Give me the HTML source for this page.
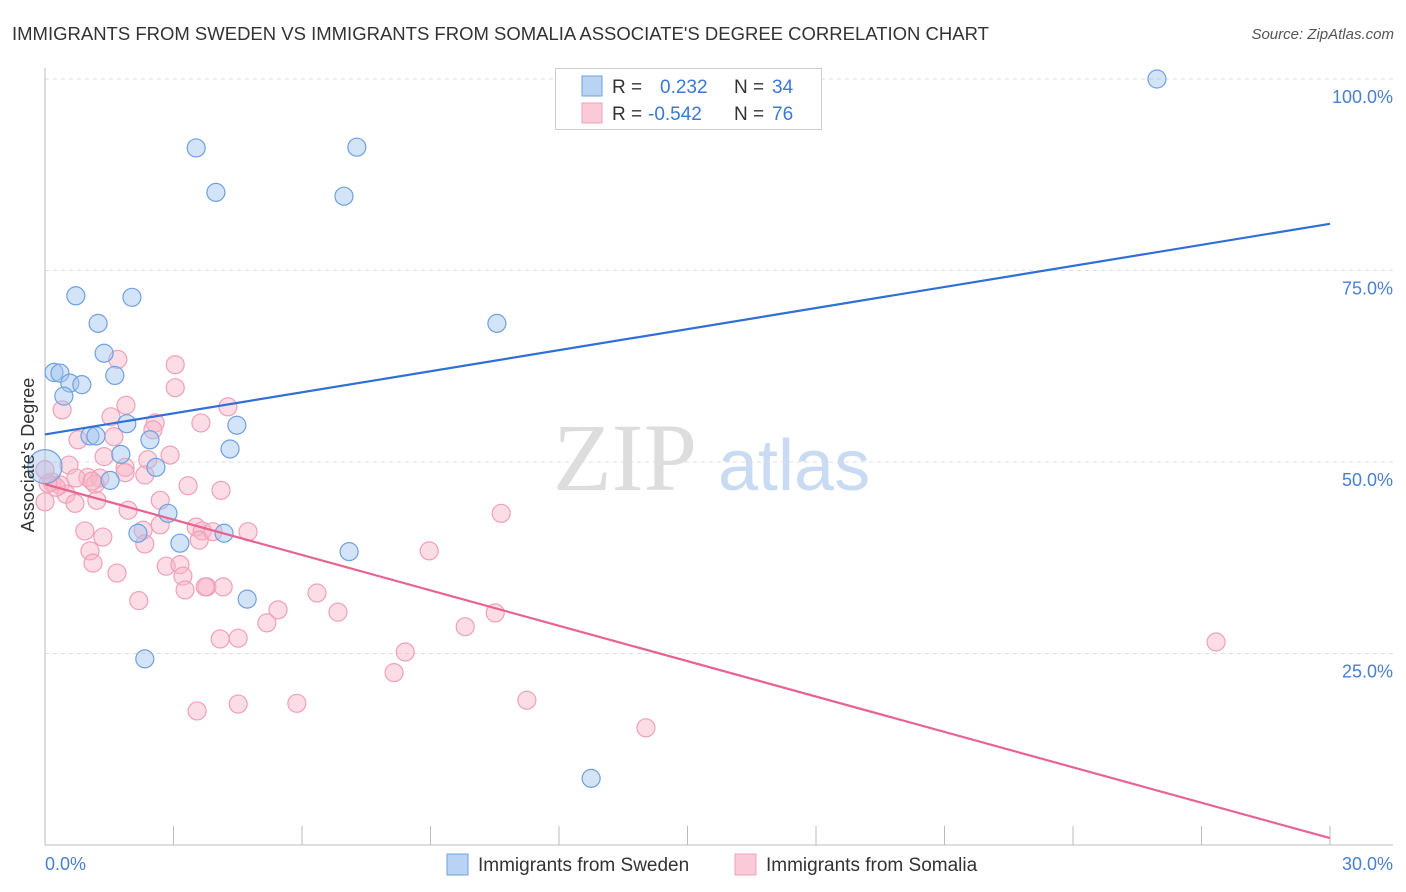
<!DOCTYPE html>
<html><head><meta charset="utf-8"><style>
body{margin:0;background:#fff;font-family:"Liberation Sans",sans-serif}
svg{display:block}
</style></head><body>
<svg id="c" width="1406" height="892" xmlns="http://www.w3.org/2000/svg">
<text x="12" y="40" font-size="18.5" fill="#333">IMMIGRANTS FROM SWEDEN VS IMMIGRANTS FROM SOMALIA ASSOCIATE'S DEGREE CORRELATION CHART</text>
<text x="1394" y="39" font-size="15" fill="#555" font-style="italic" text-anchor="end">Source: ZipAtlas.com</text>
<g><text x="553" y="490" font-size="96" fill="#ddd" font-family="Liberation Serif,serif">ZIP</text><text x="718" y="490" font-size="72" fill="#c9dbf3">atlas</text></g>
<g id="grid"></g><g id="axes"></g><g id="pts"></g><g id="lines"></g>
<g>
<rect x="555.5" y="68.5" width="266" height="61" fill="#fff" stroke="#ccc"/>
<rect x="582" y="76" width="20" height="20" fill="#b9d3f5" stroke="#6fa0e0"/>
<rect x="582" y="103" width="20" height="20" fill="#fbcad8" stroke="#f0a0b8"/>
<text x="612" y="93" font-size="19" fill="#333">R = </text><text x="660" y="93" font-size="19" fill="#3a78d8">0.232</text>
<text x="734" y="93" font-size="19" fill="#333">N = </text><text x="772" y="93" font-size="19" fill="#3a78d8">34</text>
<text x="612" y="120" font-size="19" fill="#333">R = </text><text x="648" y="120" font-size="19" fill="#3a78d8">-0.542</text>
<text x="734" y="120" font-size="19" fill="#333">N = </text><text x="772" y="120" font-size="19" fill="#3a78d8">76</text>
</g>
<g>
<rect x="447" y="854" width="21" height="21" fill="#b9d3f5" stroke="#6fa0e0"/>
<text x="478" y="871" font-size="19" fill="#333">Immigrants from Sweden</text>
<rect x="735" y="854" width="21" height="21" fill="#fbcad8" stroke="#f0a0b8"/>
<text x="766" y="871" font-size="19" fill="#333">Immigrants from Somalia</text>
</g>
<text transform="translate(34,455) rotate(-90)" font-size="18" fill="#333" text-anchor="middle">Associate's Degree</text>
</svg>
<script>
const yTicks=[25,50,75,100];
const xTickLabels=["0.0%","30.0%"];
const swedenX=[25.96,3.53,7.28,3.99,6.98,0.72,2.03,1.24,10.55,1.38,0.21,0.35,1.63,0.58,0.86,0.44,4.48,1.91,2.45,1.05,1.19,4.32,1.77,2.59,1.52,2.87,2.17,4.18,3.15,7.10,4.72,2.33,12.75,0];
const swedenY=[100,91.0,91.1,85.2,84.7,71.7,71.5,68.1,68.1,64.2,61.7,61.6,61.3,60.3,60.1,58.6,54.8,55.0,52.9,53.4,53.4,51.7,51.0,49.3,47.6,43.3,40.7,40.7,39.4,38.3,32.1,24.3,8.7,49.4];
const somaliaX=[1.70,3.04,3.04,1.89,0.40,4.27,1.54,2.57,3.64,2.52,0.77,1.61,0.56,1.38,2.40,1.87,2.92,1.00,0.72,1.28,1.87,2.33,0.16,0.35,1.17,3.34,4.11,0.49,1.21,0.70,0,1.94,2.69,3.53,0.93,3.67,2.29,3.60,3.92,4.74,1.35,2.33,1.05,8.97,10.65,2.83,3.15,1.12,1.68,3.22,3.27,3.78,4.16,6.35,2.19,5.44,6.84,10.51,5.18,4.09,4.51,9.81,8.41,8.15,3.55,4.51,5.88,11.25,14.03,27.34,0.26,0.07,3.74,0,2.69,1.10];
const somaliaY=[63.4,62.7,59.7,57.4,56.8,57.2,55.9,55.1,55.1,54.2,52.9,53.3,49.6,50.7,50.3,49.3,50.9,48.0,47.9,47.9,48.6,48.3,47.4,47.0,47.1,46.9,46.3,45.8,45.0,44.6,44.8,43.7,41.8,41.5,41.0,41.0,41.1,39.8,40.9,40.9,40.2,39.3,38.4,38.4,43.3,36.4,36.6,36.8,35.5,35.1,33.3,33.7,33.7,32.9,31.9,30.7,30.4,30.3,29.0,26.9,27.0,28.5,25.2,22.5,17.5,18.4,18.5,18.9,15.3,26.5,46.7,47.2,33.7,49.0,45.0,47.5];
const swedenTrend=[53.6,81.1];
const somaliaTrend=[47.1,0.9];
const trendX=[0,30];
const NS='http://www.w3.org/2000/svg';
const X=v=>45+v*(1285/30), Y=v=>845-v*7.66;
function mk(t,a,p){const e=document.createElementNS(NS,t);for(const k in a)e.setAttribute(k,a[k]);document.getElementById(p).appendChild(e);return e;}
yTicks.forEach(t=>{
 const l=mk('line',{x1:45,x2:1393,y1:Y(t),y2:Y(t),stroke:'#ddd','stroke-dasharray':'4,4'},'grid');
 
 
 const tx=mk('text',{x:1393,y:Y(t)+24,'font-size':18,fill:'#4a7fd0','text-anchor':'end'},'axes');
 tx.textContent=t.toFixed(1)+'%';
 
 
});
const ax=mk('line',{x1:45,x2:45,y1:68,y2:845,stroke:'#bbb'},'axes');


const bx=mk('line',{x1:45,x2:1393,y1:845,y2:845,stroke:'#bbb'},'axes');


for(let i=0;i<=10;i++){const tk=mk('line',{x1:X(i*3),x2:X(i*3),y1:826,y2:845,stroke:'#bbb'},'axes');
 
 }
const xl0=mk('text',{x:45,y:870,'font-size':18,fill:'#4a7fd0'},'axes');xl0.textContent=xTickLabels[0];


const xl1=mk('text',{x:1393,y:870,'font-size':18,fill:'#4a7fd0','text-anchor':'end'},'axes');xl1.textContent=xTickLabels[1];


somaliaX.forEach((v,i)=>{const c=mk('circle',{cx:X(v),cy:Y(somaliaY[i]),r:9,fill:'rgba(248,180,200,0.45)',stroke:'#f0a0b8','stroke-width':1.2},'pts');
 
 });
swedenX.forEach((v,i)=>{const c=mk('circle',{cx:X(v),cy:Y(swedenY[i]),r:i==swedenX.length-1?17:9,fill:'rgba(160,196,240,0.45)',stroke:'#6fa0e0','stroke-width':1.2},'pts');
 
 });
const l1=mk('line',{x1:X(trendX[0]),x2:X(trendX[1]),y1:Y(swedenTrend[0]),y2:Y(swedenTrend[1]),stroke:'#2f6fd6','stroke-width':2.2},'lines');


const l2=mk('line',{x1:X(trendX[0]),x2:X(trendX[1]),y1:Y(somaliaTrend[0]),y2:Y(somaliaTrend[1]),stroke:'#e8648e','stroke-width':2.2},'lines');


</script>
</body></html>
